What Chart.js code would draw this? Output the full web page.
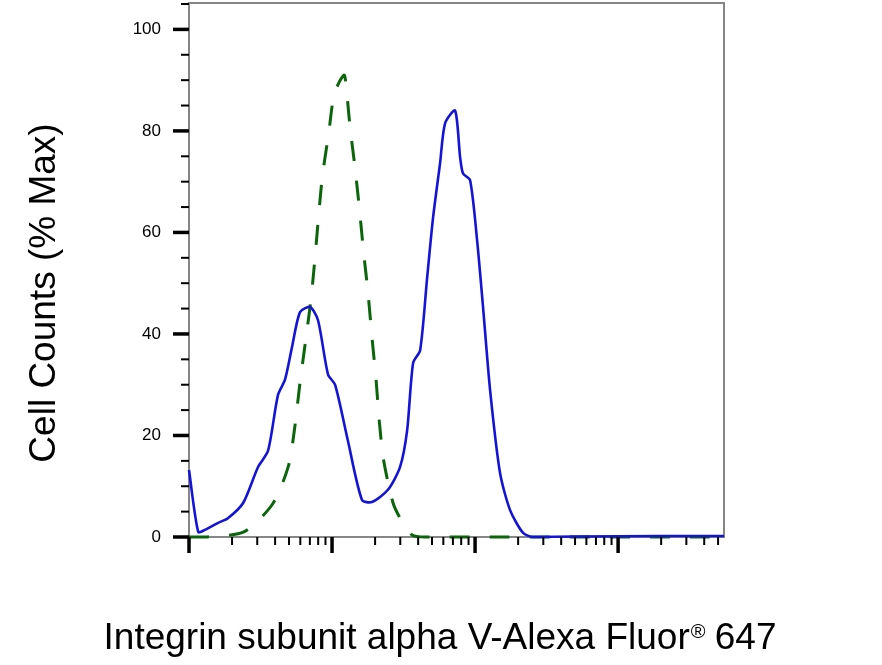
<!DOCTYPE html>
<html>
<head>
<meta charset="utf-8">
<script src="https://cdn.jsdelivr.net/npm/chart.js@4.4.1/dist/chart.umd.min.js"></script>
<style>
  html, body { margin: 0; padding: 0; background: #fff; }
  canvas { display: block; }
</style>
</head>
<body>
<canvas id="histChart" width="882" height="665"></canvas>
<script>
// stained sample, solid blue
var stainedX = [10, 11.6, 12.9, 16, 18.7, 23.9, 30.4, 35.7, 41.9, 46.9, 52.5, 59.7, 70.2, 79.8, 93.8, 105,
  129, 162, 190, 246, 299, 335, 369, 413, 462, 509, 569, 617, 725, 786, 824, 923, 1033, 1137, 1273,
  1495, 1757, 2166, 2544, 5000, 20000, 55000];
var stainedY = [13.2, 1.0, 1.4, 2.8, 3.7, 6.7, 13.8, 17, 28, 31, 37.4, 44.3, 45.3, 42.7, 32, 30,
  19, 7.3, 6.9, 9.3, 13.8, 21, 34.3, 36.8, 51, 63, 73.6, 81.5, 84, 74.8, 71.6, 70.3, 58.5, 45.3, 29,
  12.6, 5.3, 0.8, 0, 0.1, 0.2, 0.2];

// isotype control, dashed green
var controlX = [10, 12.9, 24.2, 38.4, 49.6, 55.1, 59.7, 65.3, 71.3, 76, 80.4, 85.8, 94.5, 104.1, 121.3,
  125.3, 133.6, 144.8, 155.7, 166.1, 178.5, 190.4, 203.2, 213.2, 229.2, 267.1, 308.7, 362.7, 447, 55000];
var controlY = [0, 0, 1, 6.5, 14, 22, 30.4, 38.6, 46.9, 55, 63, 71.3, 79.3, 87.5, 91,
  89, 80.8, 72.7, 64.4, 56.2, 48.1, 39.2, 31, 23.3, 15.2, 6.7, 3, 0.4, 0, 0];

var yTickStep = 20;
var yMinorStep = 5;
var xDecades = [10, 100, 1000, 10000];

var yTitle = 'Cell Counts (% Max)';
var xTitle = 'Integrin subunit alpha V-Alexa Fluor';
var xTitleMark = '\u00AE';
var xTitleEnd = ' 647';

function toPoints(xs, ys) {
  return xs.map(function (x, i) { return { x: x, y: ys[i] }; });
}

Chart.defaults.font.family = '"Liberation Sans", Arial, sans-serif';
Chart.defaults.color = '#000';

// grey frame behind the curves
var framePlugin = {
  id: 'frame',
  beforeDatasetsDraw: function (chart) {
    var ctx = chart.ctx, a = chart.chartArea;
    ctx.save();
    ctx.strokeStyle = '#868686';
    ctx.lineWidth = 2;
    ctx.strokeRect(a.left, a.top, a.right - a.left, a.bottom - a.top);
    ctx.restore();
  }
};

// tick marks and axis titles
var axisPlugin = {
  id: 'axisMarks',
  afterDraw: function (chart) {
    var ctx = chart.ctx, a = chart.chartArea;
    var xs = chart.scales.x, ys = chart.scales.y;
    ctx.save();
    ctx.strokeStyle = '#000';

    for (var v = 0; v <= ys.max; v += yMinorStep) {
      var py = ys.getPixelForValue(v);
      var major = v % yTickStep === 0;
      ctx.lineWidth = major ? 3.5 : 2;
      ctx.beginPath();
      ctx.moveTo(a.left - (major ? 16 : 8), py);
      ctx.lineTo(a.left, py);
      ctx.stroke();
    }

    xDecades.forEach(function (d) {
      for (var m = 1; m <= 9; m++) {
        var val = d * m;
        if (val > xs.max) break;
        var px = xs.getPixelForValue(val);
        ctx.lineWidth = m === 1 ? 3.5 : 2;
        ctx.beginPath();
        ctx.moveTo(px, a.bottom);
        ctx.lineTo(px, a.bottom + (m === 1 ? 16 : 8));
        ctx.stroke();
      }
    });

    ctx.fillStyle = '#000';
    var big = '37px "Liberation Sans", Arial, sans-serif';
    var small = '20px "Liberation Sans", Arial, sans-serif';

    // y title
    ctx.save();
    ctx.font = big;
    ctx.textAlign = 'center';
    ctx.textBaseline = 'alphabetic';
    ctx.translate(55, 293);
    ctx.rotate(-Math.PI / 2);
    ctx.fillText(yTitle, 0, 0);
    ctx.restore();

    // x title with superscript mark
    ctx.textAlign = 'left';
    ctx.textBaseline = 'alphabetic';
    ctx.font = big;
    var w1 = ctx.measureText(xTitle).width;
    var w3 = ctx.measureText(xTitleEnd).width;
    ctx.font = small;
    var w2 = ctx.measureText(xTitleMark).width;
    var x0 = 440 - (w1 + w2 + w3) / 2;
    ctx.font = big;
    ctx.fillText(xTitle, x0, 649);
    ctx.font = small;
    ctx.fillText(xTitleMark, x0 + w1 + 1, 638);
    ctx.font = big;
    ctx.fillText(xTitleEnd, x0 + w1 + w2, 649);

    ctx.restore();
  }
};

var ctx = document.getElementById('histChart');
var histChart = new Chart(ctx, {
  type: 'line',
  data: {
    datasets: [
      {
        label: 'Integrin alpha V',
        data: toPoints(stainedX, stainedY),
        borderColor: '#1414d6',
        borderWidth: 2.6,
        pointRadius: 0,
        tension: 0.25,
        fill: false,
        clip: 6,
        order: 0
      },
      {
        label: 'Isotype control',
        data: toPoints(controlX, controlY),
        borderColor: '#0b650b',
        borderWidth: 3,
        borderDash: [20, 20],
        pointRadius: 0,
        tension: 0.25,
        fill: false,
        clip: 6,
        order: 1
      }
    ]
  },
  options: {
    responsive: false,
    animation: false,
    layout: { padding: { left: 0, top: 3, right: 158, bottom: 0 } },
    plugins: {
      legend: { display: false },
      tooltip: { enabled: false },
      title: { display: false }
    },
    scales: {
      x: {
        type: 'logarithmic',
        min: 10,
        max: 55000,
        grid: { display: false, drawTicks: false },
        border: { display: false },
        ticks: { display: false },
        afterFit: function (s) {
          s.height = 128;
          s.paddingLeft = 0;
          s.paddingRight = 0;
        }
      },
      y: {
        min: 0,
        max: 105.2,
        grid: { display: false, drawTicks: false },
        border: { display: false },
        ticks: {
          stepSize: yTickStep,
          includeBounds: false,
          padding: 28,
          color: '#000',
          font: { size: 17 }
        },
        afterFit: function (s) {
          s.width = 189;
          s.paddingTop = 0;
          s.paddingBottom = 0;
        }
      }
    }
  },
  plugins: [framePlugin, axisPlugin]
});
</script>
</body>
</html>
